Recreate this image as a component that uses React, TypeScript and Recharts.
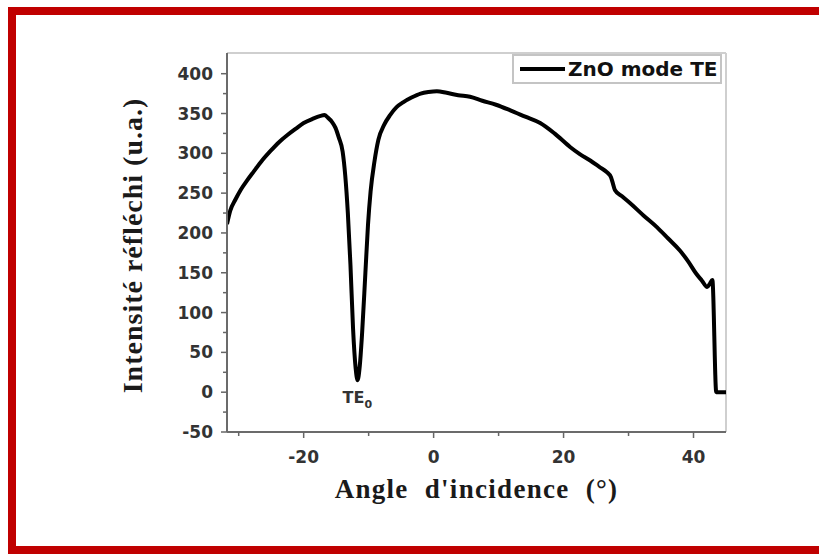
import React from 'react';
import { LineChart, Line, XAxis, YAxis, Legend, ReferenceDot, ReferenceLine } from 'recharts';

// angle of incidence (deg) and reflected intensity (a.u.)
const angles = [
  -31.8, -31.3, -30.5, -29.7, -28.7, -27.7, -26.4, -25.1, -23.8, -22.5,
  -21.2, -20.0, -18.7, -17.4, -16.8, -16.3, -15.6, -15.1, -14.6, -14.0,
  -13.6, -13.2, -12.8, -12.4, -12.0, -11.7, -11.4, -11.0, -10.5, -10.1,
  -9.7, -9.1, -8.5, -7.6, -6.7, -5.7, -4.7, -3.4, -2.0, -0.8,
  0.5, 2.0, 3.8, 5.6, 7.5, 9.6, 11.8, 14.1, 16.4, 18.6,
  21.0, 22.5, 24.1, 25.5, 26.7, 27.3, 27.6, 27.9, 29.0, 30.3,
  32.3, 34.4, 36.1, 37.9, 39.2, 40.4, 41.3, 42.1, 42.5, 42.9,
  43.5, 45.0,
];
const intensity = [
  211, 228, 242, 254, 266, 277, 291, 303, 314, 323,
  331, 338, 343, 347, 348, 345, 339, 332, 320, 302,
  272, 225, 160, 80, 30, 15, 30, 75, 150, 210,
  252, 290, 317, 336, 348, 358, 364, 370, 375, 377,
  378, 376, 373, 371, 366, 361, 354, 346, 338, 325,
  308, 299, 291, 283, 276, 270, 262, 254, 246, 237,
  222, 207, 193, 178, 164, 149, 140, 132, 136, 141,
  0, 0,
];

const xTicks = [-30, -20, -10, 0, 10, 20, 30, 40];
const xLabelled = [-20, 0, 20, 40];
const yTicks = [-50, -25, 0, 25, 50, 75, 100, 125, 150, 175, 200, 225, 250, 275, 300, 325, 350, 375, 400];
const yLabelled = [-50, 0, 50, 100, 150, 200, 250, 300, 350, 400];
const xDomain = [-31.8, 45];
const yDomain = [-50, 426];

const seriesName = 'ZnO mode TE';
const xTitle = "Angle  d'incidence  (°)";
const yTitle = 'Intensité réfléchi (u.a.)';

const data = angles.map((a, i) => ({ angle: a, intensity: intensity[i] }));

const tickFont = { fontFamily: '"DejaVu Sans", sans-serif', fontWeight: 700, fontSize: 17, fill: '#333' };
const titleFont = { fontFamily: '"Liberation Serif", serif', fontWeight: 700, fill: '#1a1a1a' };

const XTick = (props: any) => {
  const { x, y, payload } = props;
  const major = xLabelled.includes(payload.value);
  return (
    <g>
      <line x1={x} x2={x} y1={y} y2={y + (major ? 6 : 4)} stroke="#666" strokeWidth={1.5} />
      {major && (
        <text x={x} y={y + 31} textAnchor="middle" {...tickFont}>
          {payload.value}
        </text>
      )}
    </g>
  );
};

const YTick = (props: any) => {
  const { x, y, payload } = props;
  const major = yLabelled.includes(payload.value);
  return (
    <g>
      <line x1={x} x2={x - (major ? 6 : 4)} y1={y} y2={y} stroke="#666" strokeWidth={1.5} />
      {major && (
        <text x={x - 14} y={y + 6} textAnchor="end" {...tickFont}>
          {payload.value}
        </text>
      )}
    </g>
  );
};

const XTitle = (props: any) => {
  const vb = props.viewBox;
  return (
    <text x={vb.x + vb.width / 2} y={vb.y + 66} textAnchor="middle" fontSize={27} letterSpacing={1.3} style={{ whiteSpace: 'pre' }} {...titleFont}>
      {xTitle}
    </text>
  );
};

const YTitle = (props: any) => {
  const vb = props.viewBox;
  const cx = vb.x + vb.width - 85;
  const cy = vb.y + vb.height / 2 + 3;
  return (
    <text x={cx} y={cy} transform={`rotate(-90 ${cx} ${cy})`} textAnchor="middle" fontSize={28} letterSpacing={1} {...titleFont}>
      {yTitle}
    </text>
  );
};

const DipLabel = (props: any) => {
  const vb = props.viewBox;
  return (
    <text x={vb.x - 15} y={vb.y + 23} {...tickFont} fontSize={16}>
      TE<tspan fontSize={11} dy={5}>0</tspan>
    </text>
  );
};

const LegendBox = () => (
  <div
    style={{
      boxSizing: 'border-box',
      width: 210,
      height: 30,
      border: '2px solid #c4c4c4',
      display: 'flex',
      alignItems: 'center',
      background: '#fff',
    }}
  >
    <span style={{ display: 'inline-block', width: 45, height: 4, background: '#000', marginLeft: 6 }} />
    <span style={{ marginLeft: 3, font: 'bold 20px "DejaVu Sans"', color: '#111', whiteSpace: 'nowrap' }}>{seriesName}</span>
  </div>
);

export default function App() {
  return (
    <div style={{ position: 'absolute', left: 0, top: 0, width: 819, height: 554, overflow: 'hidden', background: '#fff' }}>
      <div
        style={{
          position: 'absolute',
          left: 8,
          top: 7,
          width: 900,
          height: 547,
          border: '8px solid #c00000',
          boxSizing: 'border-box',
        }}
      />
      <div style={{ position: 'absolute', left: 0, top: 0 }}>
        <LineChart width={819} height={554} data={data} margin={{ top: 53, right: 93, bottom: 0, left: 0 }}>
          <XAxis
            dataKey="angle"
            type="number"
            domain={xDomain}
            ticks={xTicks}
            interval={0}
            allowDataOverflow
            height={122}
            tickSize={0}
            tickMargin={0}
            tickLine={false}
            tick={<XTick />}
            axisLine={{ stroke: '#6b6b6b', strokeWidth: 2 }}
            label={<XTitle />}
          />
          <YAxis
            type="number"
            domain={yDomain}
            ticks={yTicks}
            interval={0}
            allowDataOverflow
            width={227}
            tickSize={0}
            tickMargin={0}
            tickLine={false}
            tick={<YTick />}
            axisLine={{ stroke: '#6b6b6b', strokeWidth: 2 }}
            label={<YTitle />}
          />
          {/* light grey top and right frame */}
          <ReferenceLine y={yDomain[1]} stroke="#cfcfcf" strokeWidth={2} ifOverflow="visible" />
          <ReferenceLine x={xDomain[1]} stroke="#cfcfcf" strokeWidth={2} ifOverflow="visible" />
          <Legend
            layout="vertical"
            align="center"
            verticalAlign="middle"
            content={<LegendBox />}
            wrapperStyle={{ left: 512, top: 54, width: 210, height: 30 }}
          />
          <Line
            type="monotone"
            dataKey="intensity"
            name={seriesName}
            stroke="#000"
            strokeWidth={4}
            dot={false}
            isAnimationActive={false}
          />
          <ReferenceDot x={-11.7} y={15} r={0} fill="none" stroke="none" label={<DipLabel />} />
        </LineChart>
      </div>
    </div>
  );
}
